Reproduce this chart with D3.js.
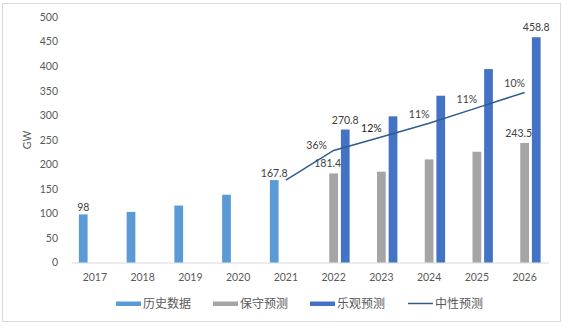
<!DOCTYPE html>
<html>
<head>
<meta charset="utf-8">
<script src="https://cdn.jsdelivr.net/npm/d3@7/dist/d3.min.js"></script>
<style>
  html, body { margin: 0; padding: 0; background: #fff; }
  svg { display: block; }
</style>
</head>
<body>
<svg id="chart" width="567" height="326"></svg>
<script>
// Installed PV capacity, GW
const years = ["2017", "2018", "2019", "2020", "2021", "2022", "2023", "2024", "2025", "2026"];
const history      = [98, 103, 116, 138, 167.8, null, null, null, null, null];
const conservative = [null, null, null, null, null, 181.4, 185, 210, 225.6, 243.5];
const optimistic   = [null, null, null, null, null, 270.8, 297.7, 339.7, 394, 458.8];
const neutral      = [null, null, null, null, 167.8, 228.2, 255.6, 283.7, 314.9, 346.4];
const growthLabels = [null, null, null, null, null, "36%", "12%", "11%", "11%", "10%"];
const yTicks = [0, 50, 100, 150, 200, 250, 300, 350, 400, 450, 500];
const legendNames = ["历史数据", "保守预测", "乐观预测", "中性预测"];
// Which values get a printed label, per bar series
const labelled = {
  history: ["2017", "2021"],
  conservative: ["2022", "2026"],
  optimistic: ["2022", "2026"]
};

const colors = {
  history: "#5B9BD5",
  conservative: "#A5A5A5",
  optimistic: "#4472C4",
  neutral: "#2F5C8F"
};

const svg = d3.select("#chart");
const latin = "Lato, 'Open Sans', sans-serif";
const cjk = "'Noto Sans CJK SC', sans-serif";

// Outer frame
svg.append("rect")
  .attr("x", 2.5).attr("y", 3.5).attr("width", 558).attr("height", 318)
  .attr("fill", "#fff").attr("stroke", "#D9D9D9").attr("stroke-width", 1);

const x = d3.scaleBand().domain(years).range([71, 548.5]).paddingInner(0).paddingOuter(0);
const y = d3.scaleLinear().domain([0, 500]).range([262.5, 17]);
const series = ["history", "conservative", "optimistic"];
const sub = d3.scaleBand().domain(series).range([-16, 16]).paddingInner(0.25);
const data = { history, conservative, optimistic };

// Y axis labels
const yAxis = d3.axisLeft(y).tickValues(yTicks).tickSize(0).tickPadding(0);
const gy = svg.append("g").attr("transform", "translate(58,0)").call(yAxis);
gy.select(".domain").remove();
gy.selectAll("text")
  .attr("fill", "#595959").style("font-family", latin).style("font-size", "10.5px");

// X axis
const xAxis = d3.axisBottom(x).tickSize(0).tickPadding(11);
const gx = svg.append("g").attr("transform", "translate(0,262.5)").call(xAxis);
gx.select(".domain").attr("stroke", "#D9D9D9").attr("stroke-width", 1);
gx.selectAll("text")
  .attr("fill", "#595959").style("font-family", latin).style("font-size", "10.5px");

// Axis title
svg.append("text")
  .attr("transform", "translate(31,140) rotate(-90)")
  .attr("text-anchor", "middle")
  .attr("fill", "#595959").style("font-family", latin).style("font-size", "10.5px")
  .text("GW");

// Bars
series.forEach(s => {
  const rows = years.map((yr, i) => ({ yr, v: data[s][i] })).filter(d => d.v != null);
  svg.append("g").selectAll("rect").data(rows).join("rect")
    .attr("x", d => x(d.yr) + x.bandwidth() / 2 + sub(s))
    .attr("y", d => y(d.v))
    .attr("width", sub.bandwidth())
    .attr("height", d => y(0) - y(d.v))
    .attr("fill", colors[s]);

  const dx = s === "conservative" ? -6 : 0;
  const dy = s === "history" ? -3 : -6;
  svg.append("g").selectAll("text").data(rows.filter(d => labelled[s].includes(d.yr))).join("text")
    .attr("x", d => x(d.yr) + x.bandwidth() / 2 + sub(s) + sub.bandwidth() / 2 + dx)
    .attr("y", d => y(d.v) + dy)
    .attr("text-anchor", "middle")
    .attr("fill", "#404040").style("font-family", latin).style("font-size", "10.5px")
    .text(d => d.v);
});

// Neutral forecast line
const linePts = years.map((yr, i) => ({ yr, v: neutral[i], lab: growthLabels[i] })).filter(d => d.v != null);
const line = d3.line()
  .x(d => x(d.yr) + x.bandwidth() / 2)
  .y(d => y(d.v));
svg.append("path")
  .datum(linePts)
  .attr("d", line)
  .attr("fill", "none")
  .attr("stroke", colors.neutral)
  .attr("stroke-width", 1.5);

// Growth rate labels
svg.append("g").selectAll("text").data(linePts.filter(d => d.lab)).join("text")
  .attr("x", (d, i) => x(d.yr) + x.bandwidth() / 2 + (i === 0 ? -17 : -10))
  .attr("y", (d, i) => y(d.v) + (i === 0 ? -1 : -5))
  .attr("text-anchor", "middle")
  .attr("fill", d => d.lab === "12%" ? "#1a1a1a" : "#404040")
  .style("font-family", latin).style("font-size", "10.5px")
  .text(d => d.lab);

// Legend
const legendItems = [
  { name: legendNames[0], type: "bar", color: colors.history, x: 116 },
  { name: legendNames[1], type: "bar", color: colors.conservative, x: 213 },
  { name: legendNames[2], type: "bar", color: colors.optimistic, x: 310 },
  { name: legendNames[3], type: "line", color: colors.neutral, x: 408 }
];
const lg = svg.append("g");
legendItems.forEach(it => {
  if (it.type === "bar") {
    lg.append("rect").attr("x", it.x).attr("y", 301.5).attr("width", 25).attr("height", 4.5).attr("fill", it.color);
  } else {
    lg.append("line").attr("x1", it.x).attr("x2", it.x + 25).attr("y1", 303.5).attr("y2", 303.5)
      .attr("stroke", it.color).attr("stroke-width", 1.5);
  }
  lg.append("text")
    .attr("x", it.x + 27).attr("y", 308)
    .attr("fill", "#595959").style("font-family", cjk).style("font-size", "12px")
    .text(it.name);
});
</script>
</body>
</html>
